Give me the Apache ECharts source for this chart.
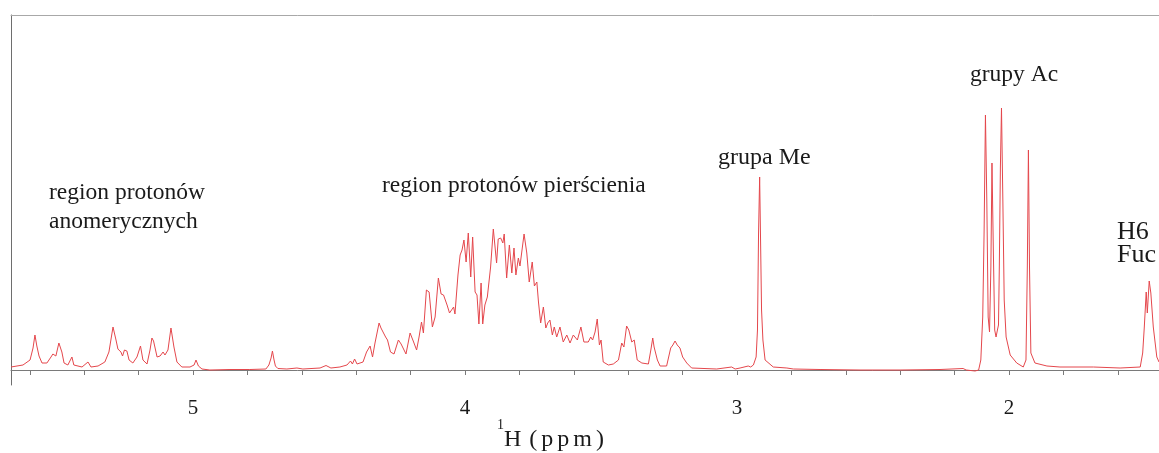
<!DOCTYPE html>
<html><head><meta charset="utf-8">
<script src="https://cdn.jsdelivr.net/npm/echarts@6/dist/echarts.min.js"></script>
<style>html,body{margin:0;padding:0;background:#fff}#c{width:1159px;height:453px}</style>
</head><body><div id="c"></div>
<script>
// chemical shift (ppm) and relative intensity
const shifts = [
5.669,5.625,5.599,5.588,5.581,5.574,5.566,5.555,5.537,5.522,5.515,5.504,5.493,5.482,5.474,5.460,5.445,5.438,5.408,5.386,
5.375,5.349,5.324,5.309,5.294,5.283,5.276,5.265,5.259,5.252,5.243,5.235,5.221,5.206,5.193,5.184,5.169,5.158,5.151,5.145,
5.140,5.132,5.121,5.110,5.103,5.092,5.081,5.070,5.059,5.041,5.011,4.996,4.989,4.980,4.967,4.938,4.864,4.791,4.732,4.721,
4.713,4.708,4.702,4.697,4.688,4.655,4.618,4.596,4.533,4.511,4.493,4.460,4.434,4.421,4.414,4.406,4.397,4.375,4.362,4.349,
4.340,4.331,4.316,4.309,4.302,4.292,4.285,4.274,4.261,4.245,4.235,4.217,4.202,4.189,4.178,4.169,4.160,4.153,4.142,4.132,
4.120,4.110,4.098,4.088,4.079,4.066,4.057,4.052,4.042,4.037,4.026,4.018,4.011,4.004,3.996,3.988,3.979,3.972,3.963,3.956,
3.949,3.941,3.935,3.927,3.918,3.906,3.896,3.884,3.878,3.869,3.861,3.856,3.847,3.837,3.828,3.820,3.813,3.804,3.798,3.783,
3.773,3.764,3.753,3.745,3.736,3.730,3.722,3.712,3.703,3.696,3.688,3.679,3.672,3.663,3.651,3.639,3.626,3.614,3.602,3.587,
3.574,3.563,3.547,3.538,3.531,3.522,3.514,3.506,3.500,3.492,3.473,3.455,3.436,3.424,3.416,3.406,3.398,3.387,3.378,3.367,
3.350,3.326,3.317,3.310,3.305,3.299,3.293,3.283,3.259,3.244,3.236,3.228,3.220,3.210,3.200,3.185,3.167,3.075,3.020,3.007,
2.989,2.959,2.950,2.940,2.930,2.925,2.921,2.917,2.914,2.910,2.905,2.897,2.867,2.817,2.793,2.695,2.548,2.401,2.254,2.169,
2.158,2.125,2.112,2.104,2.097,2.092,2.087,2.082,2.077,2.072,2.067,2.063,2.058,2.053,2.048,2.043,2.039,2.036,2.032,2.028,
2.023,2.018,2.011,1.996,1.972,1.948,1.938,1.933,1.929,1.925,1.920,1.905,1.861,1.813,1.690,1.592,1.518,1.509,1.503,1.496,
1.492,1.485,1.479,1.470,1.457,1.449
];
const intensities = [
3,5,10,22,35,24,14,7,7,13,16,14,27,18,7,5,13,5,3,8,
3,4,8,18,43,30,21,18,14,20,19,10,7,13,24,10,6,20,32,29,
27,13,14,18,15,20,42,23,8,3,3,5,10,4,1,0,0.5,0.5,1,5,
12,19,10,4,1.5,1,2,1,2,4.5,2,3,5,9,6,11,6,8,18,24,
13,27,47,42,43,33,30,18,16,30,26,16,37,28,20,33,48,37,80,78,
43,53,92,76,75,65,57,55,63,56,95,115,120,130,108,137,93,133,78,75,
46,87,46,65,73,103,141,107,131,132,127,136,92,125,97,122,95,112,104,136,
117,88,108,84,88,68,47,63,42,47,50,35,43,33,43,28,35,27,35,30,
43,28,28,33,30,38,51,25,30,8,5,6,10,27,23,44,40,28,30,10,
7,6,20,32,23,25,10,4,4,22,25,29,25,22,13,7,2,1,3,1,
2,4,3,5,13,40,137,193,137,60,30,10,3,2,1,0.5,0,0,0.5,1.5,
0,-1,0,10,53,137,255,170,53,38,103,207,120,40,33,40,45,103,203,262,
170,70,33,15,7,3,10,103,220,103,17,7,4,3,3,2,3,17,43,78,
57,89,77,43,13,8
];
const majorTicks = [5, 4, 3, 2];
const minorTicks = [5.6,5.4,5.2,5.0,4.8,4.6,4.4,4.2,4.0,3.8,3.6,3.4,3.2,3.0,2.8,2.6,2.4,2.2,2.0,1.8,1.6];
const annotationTexts = ['region protonów', 'anomerycznych', 'region protonów pierścienia', 'grupa Me', 'grupy Ac', 'H6', 'Fuc'];
const axisTitle = { sup: '1', main: 'H', unit: '(ppm)' };

const chart = echarts.init(document.getElementById('c'), null, { renderer: 'canvas' });
const serif = "'Liberation Serif', 'Times New Roman', serif";
const annPos = [[49, 193, 23.5], [49, 222, 23.5], [382, 186, 23.5], [718, 158, 24], [970, 75, 23.5], [1117, 232, 26], [1117, 255, 26]];
const graphics = annotationTexts.map((t, i) => ({
  type: 'text', x: annPos[i][0], y: annPos[i][1], silent: true,
  style: { text: t, fill: '#1a1a1a', font: annPos[i][2] + 'px ' + serif, verticalAlign: 'middle', textAlign: 'left' }
}));
const unitTokens = axisTitle.unit.split('').map(c => '{p|' + c + '}').join('');
graphics.push({
  type: 'text', x: 497, y: 440, silent: true,
  style: {
    text: '{s|' + axisTitle.sup + '}{h|' + axisTitle.main + ' }' + unitTokens,
    verticalAlign: 'middle', textAlign: 'left', fill: '#1a1a1a',
    rich: {
      s: { fontSize: 14, fontFamily: serif, verticalAlign: 'top', lineHeight: 14, fill: '#1a1a1a' },
      h: { fontSize: 24, fontFamily: serif, lineHeight: 44, fill: '#1a1a1a' },
      p: { fontSize: 24, fontFamily: serif, lineHeight: 44, padding: [0, 2, 0, 2], fill: '#1a1a1a' }
    }
  }
});

chart.setOption({
  animation: false,
  backgroundColor: '#fff',
  grid: { left: 11, right: 0, top: 15, bottom: 68, containLabel: false },
  xAxis: [{
    type: 'value', min: 1.449, max: 5.669, inverse: true, position: 'bottom',
    splitLine: { show: false },
    axisLine: { show: true, lineStyle: { color: '#7a7a7a', width: 1 } },
    axisTick: { show: true, customValues: minorTicks, length: 5, lineStyle: { color: '#7a7a7a' } },
    axisLabel: { show: true, customValues: majorTicks, margin: 13, fontSize: 21, fontFamily: serif, color: '#1a1a1a',
      formatter: v => String(v) }
  }, {
    type: 'value', min: 1.449, max: 5.669, inverse: true, position: 'top',
    splitLine: { show: false }, axisTick: { show: false }, axisLabel: { show: false },
    axisLine: { show: true, lineStyle: { color: '#a8a8a8', width: 1 } }
  }],
  yAxis: {
    type: 'value', min: -15, max: 355,
    splitLine: { show: false }, axisTick: { show: false }, axisLabel: { show: false },
    axisLine: { show: true, lineStyle: { color: '#6e6e6e', width: 1 } }
  },
  series: [{
    type: 'line', xAxisIndex: 0, symbol: 'none', silent: true,
    lineStyle: { color: '#e4474c', width: 1 },
    data: shifts.map((s, i) => [s, intensities[i]])
  }],
  graphic: graphics
});
</script>
</body></html>
